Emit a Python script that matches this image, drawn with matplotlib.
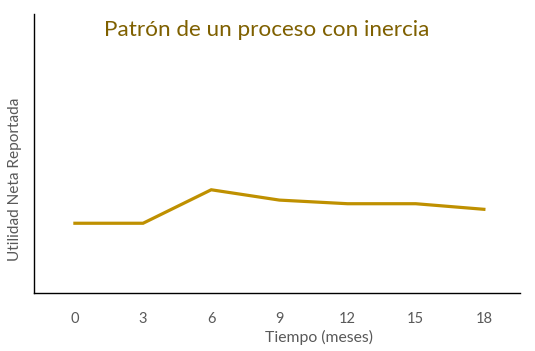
import matplotlib
matplotlib.use("Agg")
import matplotlib.pyplot as plt

# data (arbitrary units, no y scale shown)
meses = ["0", "3", "6", "9", "12", "15", "18"]
utilidad = [25, 25, 37, 33.3, 32, 32, 30]

plt.rcParams["font.family"] = ["Lato", "DejaVu Sans"]

fig = plt.figure(figsize=(5.35, 3.51), dpi=100)
ax = fig.add_axes([34 / 535, 1 - 293 / 351, (520 - 34) / 535, (293 - 14) / 351])

x = list(range(len(meses)))
ax.plot(x, utilidad, color="#BF9000", lw=2.3, solid_joinstyle="miter")

ax.set_xlim(-0.6, 6.53)
ax.set_ylim(0, 100)
ax.set_xticks(x)
ax.set_xticklabels(meses, color="#595959", fontsize=10.5)
ax.tick_params(axis="x", length=0, pad=14)
ax.set_yticks([])

for side in ["top", "right"]:
    ax.spines[side].set_visible(False)
for side in ["left", "bottom"]:
    ax.spines[side].set_color("black")
    ax.spines[side].set_linewidth(1.0)

fig.text(319 / 535, 1 - 337 / 351, "Tiempo (meses)", ha="center", va="center",
         color="#595959", fontsize=11.3)
fig.text(15 / 535, 1 - 179 / 351, "Utilidad Neta Reportada", ha="center", va="center",
         rotation=90, color="#595959", fontsize=11.1)
fig.text(267 / 535, 1 - 30 / 351, "Patrón de un proceso con inercia", ha="center",
         va="center", color="#7F6000", fontsize=16.2)

fig.savefig("out.png", dpi=100)
